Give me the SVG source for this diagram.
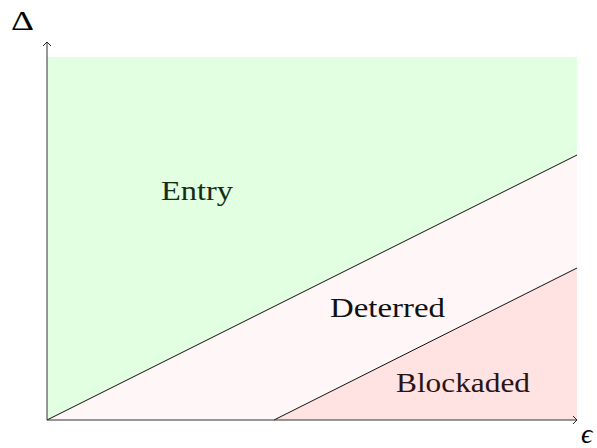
<svg xmlns="http://www.w3.org/2000/svg" width="597" height="448" viewBox="0 0 597 448">
<style>
.lbl{font-family:"Liberation Serif","DejaVu Serif",serif;font-size:28px}
.bd{stroke:#111;stroke-width:1;fill:none}
.ax{stroke:#333;stroke-width:1;fill:none}
</style>
<defs>
<marker id="tip" viewBox="-5 -5 6 10" refX="0" refY="0" markerWidth="6" markerHeight="10" markerUnits="userSpaceOnUse" orient="auto">
<path d="M-4,-4 L0,0 L-4,4" fill="none" stroke="#222" stroke-width="1"/>
</marker>
</defs>
<rect width="597" height="448" fill="#ffffff"/>
<g id="entry">
<polygon points="47,57 577,57 577,155 47,420" fill="#e2ffe2"/>
<text class="lbl" x="161" y="200" fill="#142e14" textLength="72" lengthAdjust="spacingAndGlyphs">Entry</text>
</g>
<g id="deterred">
<polygon points="47,420 577,155 577,268 274,420" fill="#fff6f7"/>
<text class="lbl" x="330" y="317" fill="#111" textLength="115" lengthAdjust="spacingAndGlyphs">Deterred</text>
</g>
<g id="blockaded">
<polygon points="274,420 577,268 577,420" fill="#ffe3e3"/>
<text class="lbl" x="396" y="392" fill="#2a1414" textLength="134" lengthAdjust="spacingAndGlyphs">Blockaded</text>
</g>
<g id="connectors">
<line class="bd" x1="47" y1="420" x2="577" y2="155"/>
<line class="bd" x1="274" y1="420" x2="577" y2="268"/>
<line class="ax" x1="47" y1="420" x2="47" y2="42" marker-end="url(#tip)"/>
<line class="ax" x1="47" y1="420" x2="577" y2="420" marker-end="url(#tip)"/>
</g>
<g id="axis-labels">
<text class="lbl" x="11" y="30" fill="#000" font-size="31" textLength="23" lengthAdjust="spacingAndGlyphs">Δ</text>
<text class="lbl" x="581" y="443" fill="#000" font-style="italic" font-size="22">ϵ</text>
</g>
</svg>
